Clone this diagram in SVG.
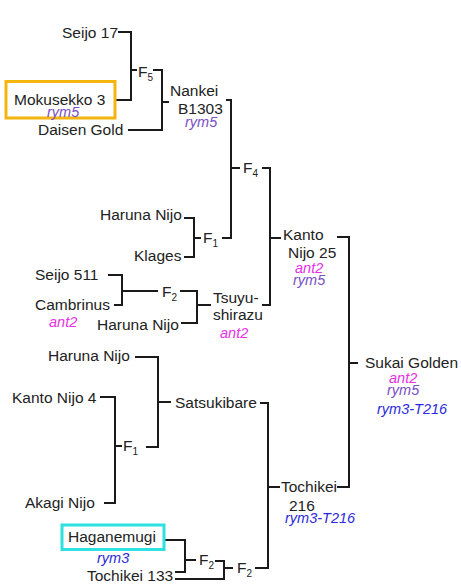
<svg xmlns="http://www.w3.org/2000/svg" width="461" height="585" viewBox="0 0 461 585">
<style>
text{font-family:"Liberation Sans",Arial,sans-serif;font-size:15.5px;fill:#222}
.g{font-size:14.5px;font-style:italic}
.ant{fill:#e530e5}
.rym5{fill:#7b50c4}
.rym3{fill:#2b2bdc}
.sub{font-size:10px}
.c path{fill:none;stroke:#1a1a1a;stroke-width:2}
</style>
<rect width="461" height="585" fill="#fff"/>
<g class="c" id="connectors">
<path d="M118,32H131V100H115"/>
<path d="M131,70H137"/>
<path d="M153,70H162V130H128"/>
<path d="M162,102H169"/>
<path d="M226,100H231V238H222"/>
<path d="M231,168H240"/>
<path d="M184,218H194V257H184"/>
<path d="M194,238H201"/>
<path d="M262,168H270V305H262"/>
<path d="M270,238H281"/>
<path d="M337,237H349V487H337"/>
<path d="M349,363H358"/>
<path d="M108,275H122V305H114"/>
<path d="M122,291H158"/>
<path d="M180,291H197V323H181"/>
<path d="M197,305H211"/>
<path d="M135,357H158V447H146"/>
<path d="M158,402H171"/>
<path d="M100,397H115V503H104"/>
<path d="M115,446H122"/>
<path d="M260,403H268V568H255"/>
<path d="M268,487H280"/>
<path d="M165,540H185V572H175"/>
<path d="M185,560H196"/>
<path d="M215,561H224V579H175"/>
<path d="M224,568H233"/>
</g>
<g id="seijo17"><text x="62" y="38">Seijo 17</text></g>
<g id="mokusekko3"><rect x="6" y="81.5" width="109" height="36.5" fill="none" stroke="#f5b50f" stroke-width="3"/><text x="14" y="105">Mokusekko 3</text><text class="g rym5" x="47" y="117">rym5</text></g>
<g id="f5"><text x="138" y="77">F<tspan class="sub" dy="4">5</tspan></text></g>
<g id="daisengold"><text x="38" y="135">Daisen Gold</text></g>
<g id="nankei"><text x="170" y="96">Nankei</text><text x="178" y="114">B1303</text><text class="g rym5" x="185" y="127">rym5</text></g>
<g id="harunanijo1"><text x="100" y="220">Haruna Nijo</text></g>
<g id="klages"><text x="134" y="261">Klages</text></g>
<g id="f1a"><text x="203" y="243">F<tspan class="sub" dy="4">1</tspan></text></g>
<g id="f4"><text x="243" y="173">F<tspan class="sub" dy="4">4</tspan></text></g>
<g id="kantonijo25"><text x="283" y="240">Kanto</text><text x="288" y="258">Nijo 25</text><text class="g ant" x="295" y="273">ant2</text><text class="g rym5" x="293" y="285">rym5</text></g>
<g id="seijo511"><text x="35" y="280">Seijo 511</text></g>
<g id="cambrinus"><text x="35" y="310">Cambrinus</text><text class="g ant" x="49" y="327">ant2</text></g>
<g id="f2a"><text x="162" y="297">F<tspan class="sub" dy="4">2</tspan></text></g>
<g id="harunanijo2"><text x="97" y="330">Haruna Nijo</text></g>
<g id="tsuyushirazu"><text x="213" y="303">Tsuyu-</text><text x="213" y="320">shirazu</text><text class="g ant" x="220" y="338">ant2</text></g>
<g id="harunanijo3"><text x="48" y="361">Haruna Nijo</text></g>
<g id="kantonijo4"><text x="12" y="403">Kanto Nijo 4</text></g>
<g id="f1b"><text x="123" y="451">F<tspan class="sub" dy="4">1</tspan></text></g>
<g id="akaginijo"><text x="25" y="508">Akagi Nijo</text></g>
<g id="satsukibare"><text x="175" y="408">Satsukibare</text></g>
<g id="haganemugi"><rect x="62" y="525" width="102" height="24.5" fill="none" stroke="#2fe0e0" stroke-width="3"/><text x="68" y="542">Haganemugi</text><text class="g rym3" x="97" y="563">rym3</text></g>
<g id="tochikei133"><text x="87" y="581">Tochikei 133</text></g>
<g id="f2b"><text x="199" y="565">F<tspan class="sub" dy="4">2</tspan></text></g>
<g id="f2c"><text x="237" y="573">F<tspan class="sub" dy="4">2</tspan></text></g>
<g id="tochikei216"><text x="281" y="492">Tochikei</text><text x="289" y="511">216</text><text class="g rym3" x="285" y="523">rym3-T216</text></g>
<g id="sukaigolden"><text x="365" y="368">Sukai Golden</text><text class="g ant" x="389" y="383">ant2</text><text class="g rym5" x="387" y="395">rym5</text><text class="g rym3" x="377" y="414">rym3-T216</text></g>
</svg>
